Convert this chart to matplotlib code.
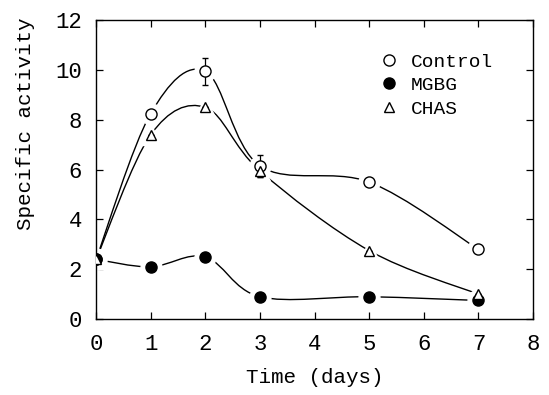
import numpy as np
import matplotlib
matplotlib.use('Agg')
import matplotlib.pyplot as plt
from matplotlib.path import Path
from matplotlib.patches import PathPatch

plt.rcParams['font.family'] = ['Liberation Mono', 'DejaVu Sans Mono']

# data
days = [0, 1, 2, 3, 5, 7]
control = [2.4, 8.25, 9.95, 6.15, 5.5, 2.8]
control_err = [0, 0, 0.55, 0.45, 0, 0]
mgbg = [2.4, 2.1, 2.5, 0.9, 0.9, 0.75]
chas = [2.4, 7.4, 8.5, 5.95, 2.75, 1.0]
chas_err = [0, 0, 0, 0.25, 0, 0]


def smooth_path(x, y):
    # Catmull-Rom curve through the points, as cubic Bezier segments
    x = np.asarray(x, float)
    y = np.asarray(y, float)
    pts = np.column_stack([x, y])
    verts = [pts[0]]
    codes = [Path.MOVETO]
    n = len(pts)
    for i in range(n - 1):
        p0 = pts[i - 1] if i > 0 else pts[i]
        p1 = pts[i]
        p2 = pts[i + 1]
        p3 = pts[i + 2] if i + 2 < n else pts[i + 1]
        c1 = p1 + (p2 - p0) / 6
        c2 = p2 - (p3 - p1) / 6
        verts += [c1, c2, p2]
        codes += [Path.CURVE4] * 3
    return Path(verts, codes)


fig, ax = plt.subplots(figsize=(5.49, 3.95), dpi=100)
fig.subplots_adjust(left=0.175, right=0.971, bottom=0.192, top=0.949)

for ys in (control, mgbg, chas):
    ax.add_patch(PathPatch(smooth_path(days, ys), fc='none', ec='black', lw=1.0, zorder=1))

# white halos so the lines stop short of the markers
for ys, m in ((control, 'o'), (chas, '^'), (mgbg, 'o')):
    ax.plot(days, ys, ls='none', marker=m, ms=15, mfc='white', mec='white', zorder=2)

# error bars
ax.errorbar(days, control, yerr=control_err, fmt='none', ecolor='black', elinewidth=0.9, capsize=2.5, zorder=2.5)
ax.errorbar(days, chas, yerr=chas_err, fmt='none', ecolor='black', elinewidth=0.9, capsize=2.5, zorder=2.5)

ax.plot(days, control, ls='none', marker='o', ms=8, mfc='white', mec='black', mew=1.0, zorder=3, label='Control')
ax.plot(days, mgbg, ls='none', marker='o', ms=8, mfc='black', mec='black', zorder=3, label='MGBG')
ax.plot(days, chas, ls='none', marker='^', ms=7, mfc='white', mec='black', mew=1.0, zorder=3, label='CHAS')

ax.set_xlim(0, 8)
ax.set_ylim(0, 12)
ax.set_xticks(range(0, 9))
ax.set_yticks(range(0, 13, 2))
ax.tick_params(direction='in', top=True, right=True, length=5, width=0.9, labelsize=16)
ax.tick_params(axis='x', pad=11)
ax.tick_params(axis='y', pad=10)
for s in ax.spines.values():
    s.set_linewidth(1.0)

ax.set_xlabel('Time (days)', fontsize=15, labelpad=9)
ax.set_ylabel('Specific activity', fontsize=15)
ax.yaxis.set_label_coords(-0.14, 0.655)

ax.legend(loc='upper right', bbox_to_anchor=(0.948, 0.948), frameon=False, fontsize=14,
          handlelength=1.0, handletextpad=0.6, labelspacing=0.3)

fig.savefig('out.png', dpi=100)
